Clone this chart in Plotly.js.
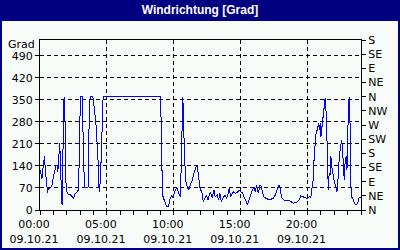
<!DOCTYPE html>
<html><head><meta charset="utf-8">
<script src="https://cdn.plot.ly/plotly-3.0.1.min.js"></script>
<style>html,body{margin:0;padding:0;background:#f8fcf8}#chart{width:400px;height:250px}
#chart .scatterlayer path{shape-rendering:crispEdges}</style>
</head><body><div id="chart"></div>
<script>
// Time of day in hours (09.10.21) and wind direction in degrees
const hours = [0.0,0.05,0.1,0.15,0.22,0.27,0.33,0.4,0.47,0.52,0.57,0.62,0.7,0.8,0.9,1.0,1.1,1.2,1.27,1.33,1.38,1.42,1.48,1.53,1.6,1.65,1.7,1.75,1.8,1.84,1.88,1.92,1.97,2.05,2.2,2.35,2.5,2.62,2.75,2.88,2.92,2.97,3.02,3.15,3.2,3.27,3.32,3.5,3.62,3.67,3.75,3.95,4.02,4.1,4.2,4.3,4.38,4.42,4.5,4.58,4.65,4.72,9.02,9.05,9.1,9.15,9.2,9.3,9.42,9.5,9.6,9.67,9.75,9.85,9.92,10.0,10.12,10.25,10.35,10.5,10.55,10.62,10.68,10.73,10.78,10.82,10.88,11.0,11.12,11.25,11.38,11.5,11.62,11.72,11.8,11.87,11.95,12.0,12.1,12.2,12.3,12.45,12.55,12.65,12.75,12.88,13.0,13.1,13.25,13.35,13.45,13.55,13.7,13.82,13.95,14.05,14.15,14.25,14.38,14.5,14.62,14.75,14.88,15.0,15.15,15.25,15.38,15.5,15.62,15.75,15.88,16.0,16.1,16.2,16.32,16.45,16.55,16.65,16.75,16.9,17.05,17.25,17.45,17.6,17.75,17.85,17.95,18.05,18.2,18.38,18.55,18.75,18.95,19.2,19.38,19.5,19.7,19.88,20.0,20.12,20.25,20.33,20.42,20.5,20.58,20.65,20.75,20.82,20.9,20.95,21.0,21.08,21.15,21.22,21.28,21.32,21.38,21.42,21.5,21.55,21.62,21.7,21.75,21.82,21.9,21.98,22.05,22.12,22.2,22.3,22.38,22.48,22.55,22.62,22.7,22.75,22.82,22.9,22.95,23.0,23.05,23.12,23.18,23.22,23.28,23.38,23.5,23.62,23.75,23.85,23.95];
const degrees = [127,125,105,100,130,150,170,127,100,70,54,70,67,72,80,106,127,140,143,122,150,175,213,138,64,16,150,276,360,308,276,106,64,51,50,45,38,50,58,64,138,281,360,360,281,180,70,70,75,281,360,360,340,308,264,200,127,58,86,170,276,360,360,281,127,64,42,27,16,11,11,22,40,45,38,48,64,70,54,42,127,276,360,276,213,127,95,74,64,80,95,117,133,143,127,95,74,64,58,27,37,48,32,48,58,37,64,42,48,32,53,27,42,48,37,48,69,42,53,58,53,55,64,58,53,42,32,16,32,48,64,74,58,80,53,80,74,53,42,37,34,34,37,48,69,80,69,42,32,30,32,27,22,25,32,45,41,38,38,42,41,64,95,170,223,249,255,276,255,276,233,260,286,308,330,355,320,276,170,64,117,115,170,138,106,95,85,74,58,106,170,201,223,191,127,95,159,170,127,255,308,360,276,106,42,38,22,16,22,38,41];

const xTickVals = [0, 5, 10, 15, 20];
const xTickText = ['00:00<br>09.10.21', '05:00<br>09.10.21', '10:00<br>09.10.21', '15:00<br>09.10.21', '20:00<br>09.10.21'];
const yTickVals = [0, 70, 140, 210, 280, 350, 420, 490];
const dirTickVals = [0, 45, 90, 135, 180, 225, 270, 315, 360, 405, 450, 495, 540];
const dirTickText = ['N', 'NE', 'E', 'SE', 'S', 'SW', 'W', 'NW', 'N', 'NE', 'E', 'SE', 'S'];
const yUnit = 'Grad';
const chartTitle = 'Windrichtung [Grad]';

// layout geometry (pixels)
const W = 400, H = 250, L = 40, R = 39, T = 40, B = 40;
const pw = W - L - R, ph = H - T - B;
const px = p => (p - L) / pw;
const py = p => (H - B - p) / ph;
const navy = '#000080';
const font = {family: 'DejaVu Sans', size: 11, color: '#000'};

const traces = [
  {x: hours, y: degrees, type: 'scatter', mode: 'lines',
   line: {color: '#0000ff', width: 1}, hoverinfo: 'skip', showlegend: false},
  {x: [hours[0]], y: [dirTickVals[0]], yaxis: 'y2', type: 'scatter', mode: 'lines',
   line: {width: 0}, hoverinfo: 'skip', showlegend: false}
];

const layout = {
  width: W, height: H,
  margin: {l: L, r: R, t: T, b: B, pad: 0},
  paper_bgcolor: '#f8fcf8', plot_bgcolor: '#f8fcf8',
  showlegend: false,
  title: {text: chartTitle, x: 0.5, xref: 'container', xanchor: 'center',
          y: 1 - 10 / H, yref: 'container', yanchor: 'middle',
          font: {family: 'Liberation Sans', size: 12, color: '#fff', weight: 'bold'}},
  xaxis: {range: [0, 24], tickmode: 'array', tickvals: xTickVals, ticktext: xTickText,
          ticks: 'outside', ticklen: 4, tickcolor: '#000', tickfont: font,
          ticklabelshift: -6,
          showline: true, linecolor: '#000', linewidth: 1, mirror: true,
          showgrid: true, gridcolor: '#000', gridwidth: 1, griddash: '4px,3px',
          zeroline: false, fixedrange: true,
          minor: {tickmode: 'linear', tick0: 0, dtick: 1, ticks: 'outside', ticklen: 4, tickcolor: '#000', showgrid: false}},
  yaxis: {range: [0, 540], tickmode: 'array', tickvals: yTickVals,
          ticks: 'outside', ticklen: 4, tickcolor: '#000', tickfont: font,
          showline: true, linecolor: '#000', linewidth: 1, mirror: true,
          showgrid: true, gridcolor: '#000', gridwidth: 1, griddash: '4px,3px',
          zeroline: false, fixedrange: true},
  yaxis2: {range: [0, 540], overlaying: 'y', side: 'right', tickmode: 'array',
           tickvals: dirTickVals, ticktext: dirTickText,
           ticks: 'outside', ticklen: 4, tickcolor: '#000', tickfont: font,
           showline: true, linecolor: '#000', linewidth: 1,
           showgrid: false, zeroline: false, fixedrange: true},
  annotations: [{text: yUnit, xref: 'paper', x: 0, xanchor: 'right', xshift: -3,
                 yref: 'y', y: 525, yanchor: 'middle', showarrow: false, font: font}],
  shapes: [
    {type: 'rect', xref: 'paper', yref: 'paper', x0: px(0), x1: px(W), y0: py(21), y1: py(0),
     fillcolor: navy, line: {width: 0}, layer: 'below'},
    {type: 'rect', xref: 'paper', yref: 'paper', x0: px(1), x1: px(W - 1), y0: py(H - 1), y1: py(1),
     fillcolor: 'rgba(0,0,0,0)', line: {color: navy, width: 2}, layer: 'above'}
  ]
};

Plotly.newPlot('chart', traces, layout, {displayModeBar: false, staticPlot: true});
</script>
</body></html>
